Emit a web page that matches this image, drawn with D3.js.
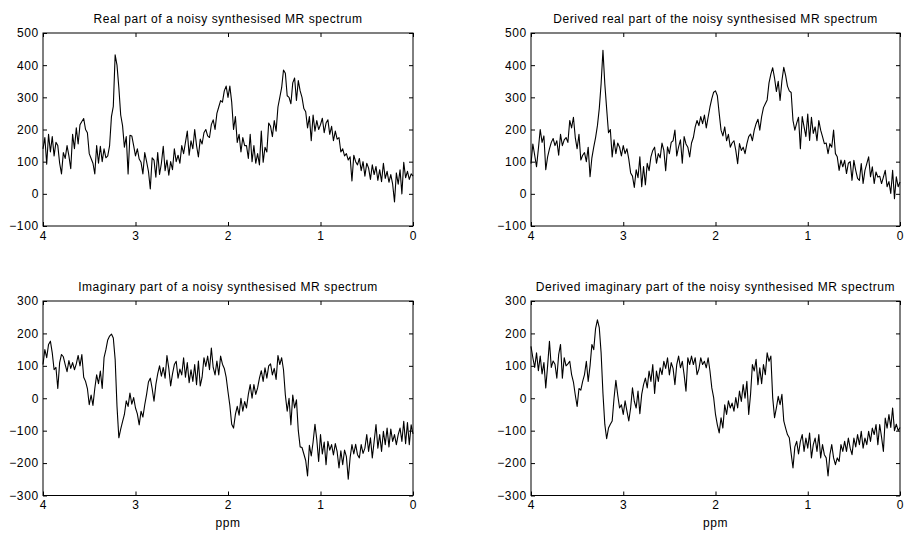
<!DOCTYPE html>
<html>
<head>
<meta charset="utf-8">
<script src="https://cdn.jsdelivr.net/npm/d3@7"></script>
<style>
  body { margin: 0; background: #fff; }
  text { font-family: Arial, "Liberation Sans", Helvetica, sans-serif; }
</style>
</head>
<body>
<svg id="chart" width="906" height="534"></svg>
<script>
// Chemical shift axis: samples run from 4 ppm down to 0 ppm in 0.02 ppm steps.
const ppmStart = 4;
const ppmStep = 0.02;

// Real part of the noisy synthesised spectrum
const realNoisy = [
  140, 175, 92, 185, 130, 178, 118, 160, 150, 95,
  62, 128, 110, 150, 118, 78, 185, 140, 205, 155,
  215, 225, 234, 200, 190, 125, 110, 95, 62, 150,
  95, 148, 100, 140, 112, 118, 150, 240, 272, 432,
  400, 330, 245, 212, 145, 178, 62, 182, 180, 150,
  118, 140, 108, 98, 62, 128, 100, 70, 15, 112,
  105, 52, 128, 60, 95, 148, 72, 105, 58, 100,
  75, 140, 100, 120, 95, 150, 125, 160, 195, 120,
  165, 140, 200, 150, 115, 170, 155, 190, 200, 180,
  175, 215, 230, 200, 250, 270, 290, 285, 320, 335,
  300, 335, 285, 200, 240, 160, 185, 130, 175, 150,
  150, 110, 185, 100, 150, 95, 125, 90, 195, 98,
  145, 130, 220, 210, 178, 228, 195, 270, 300, 330,
  385, 375, 305, 300, 280, 345, 360, 290, 352, 320,
  300, 265, 255, 205, 240, 165, 245, 195, 228, 200,
  215, 235, 190, 220, 230, 185, 210, 165, 195, 170,
  175, 130, 140, 118, 125, 105, 115, 40, 120, 100,
  90, 110, 72, 100, 55, 95, 80, 45, 90, 60,
  85, 42, 75, 38, 95, 48, 70, 36, 60, 30,
  -25, 65, 30, 75, 0, 98, 50, 70, 45, 62, 55
];

// Derived real part
const realDerived = [
  94, 155, 120, 84, 140, 200, 160, 180, 75, 115,
  140, 160, 172, 150, 165, 120, 185, 150, 168, 175,
  160, 228, 205, 238, 175, 140, 185, 105, 120, 128,
  100, 145, 53, 112, 145, 175, 212, 265, 342, 446,
  342, 265, 190, 200, 115, 168, 125, 158, 145, 118,
  150, 125, 140, 108, 65, 55, 20, 75, 50, 115,
  22, 85, 28, 95, 72, 115, 135, 145, 95, 125,
  112, 158, 135, 72, 146, 125, 160, 165, 198, 118,
  146, 168, 95, 178, 155, 145, 115, 158, 175, 208,
  228, 212, 240, 218, 245, 205, 238, 270, 296, 316,
  320, 305, 250, 198, 180, 208, 165, 185, 145, 158,
  165, 135, 94, 156, 135, 145, 125, 155, 178, 186,
  165, 198, 218, 232, 198, 240, 268, 280, 292, 345,
  372, 392, 360, 318, 350, 290, 352, 393, 368, 335,
  320, 315, 228, 198, 220, 238, 140, 240, 208, 178,
  248, 166, 238, 188, 208, 165, 228, 198, 178, 156,
  158, 125, 156, 145, 198, 125, 115, 73, 105, 84,
  104, 63, 95, 100, 42, 104, 73, 48, 42, 94,
  32, 73, 94, 115, 53, 84, 32, 68, 52, 55,
  32, 52, 73, 22, 38, 1, 73, -15, 53, 22, 37
];

// Imaginary part of the noisy synthesised spectrum
const imagNoisy = [
  104, 150, 125, 166, 176, 140, 88, 95, 30, 110,
  135, 128, 104, 82, 116, 92, 110, 88, 106, 132,
  100, 135, 65, 52, 30, -20, 10, -22, 30, 72,
  45, 84, 30, 125, 150, 180, 192, 198, 186, 120,
  -25, -122, -95, -72, -50, -8, -25, 16, -18, 2,
  -30, -48, -82, -40, -58, -20, 12, 50, 62, 30,
  -9, 42, 75, 100, 68, 95, 62, 132, 92, 38,
  75, 104, 114, 62, 90, 72, 125, 65, 110, 48,
  88, 52, 104, 42, 115, 38, 65, 125, 98, 130,
  88, 155, 95, 72, 115, 72, 130, 105, 92, 65,
  20, -22, -80, -92, -50, -25, -52, 0, -40, -10,
  -30, 12, 42, 0, 42, 12, 32, 62, 85, 52,
  94, 62, 100, 106, 72, 92, 58, 132, 104, 125,
  88, 10, -40, 0, -82, 10, -30, -5, -100, -150,
  -152, -172, -192, -240, -145, -178, -135, -80, -128, -195,
  -112, -172, -135, -205, -133, -160, -143, -175, -140, -165,
  -215, -162, -205, -160, -180, -250, -184, -143, -172, -142,
  -174, -184, -143, -170, -154, -112, -164, -122, -184, -133,
  -81, -154, -112, -164, -102, -143, -92, -150, -95, -133,
  -112, -143, -112, -92, -133, -71, -140, -75, -143, -82, -110
];

// Derived imaginary part
const imagDerived = [
  160, 125, 95, 140, 85, 130, 75, 110, 32, 100,
  176, 95, 115, 105, 62, 135, 166, 62, 125, 100,
  106, 114, 73, 50, 10, -25, 30, 25, 52, 73,
  114, 52, 100, 166, 150, 215, 242, 218, 140, 15,
  -80, -125, -92, -80, -70, 0, 55, 10, -30, -20,
  -50, -8, -40, -70, -30, 32, -10, -30, 22, -48,
  12, 42, 62, 32, 84, 52, 104, 15, 84, 52,
  94, 73, 114, 92, 125, 72, 110, 92, 42, 104,
  130, 94, 114, 72, 22, 125, 104, 130, 104, 125,
  73, 90, 125, 104, 114, 94, 125, 84, 32, 2,
  -50, -82, -107, -60, -92, -20, -50, -8, -30, -15,
  -40, 2, -30, 22, -10, 42, 0, 52, -50, 12,
  104, 84, 120, 42, 94, 45, 104, 73, 140, 114,
  130, 2, -60, -30, 6, -20, 12, -70, -92, -112,
  -122, -170, -215, -150, -133, -172, -133, -112, -164, -123,
  -154, -107, -184, -143, -123, -164, -112, -184, -143, -174,
  -184, -240, -174, -143, -184, -205, -184, -195, -143, -164,
  -133, -164, -123, -154, -174, -123, -150, -112, -143, -102,
  -154, -123, -143, -102, -133, -92, -112, -81, -143, -81,
  -120, -164, -61, -92, -50, -90, -30, -100, -80, -100, -90
];

// Tick labels
const xTicks = [4, 3, 2, 1, 0];
const realTicks = [-100, 0, 100, 200, 300, 400, 500];
const imagTicks = [-300, -200, -100, 0, 100, 200, 300];

// Titles
const titles = [
  "Real part of a noisy synthesised MR spectrum",
  "Derived real part of the noisy synthesised MR spectrum",
  "Imaginary part of a noisy synthesised MR spectrum",
  "Derived imaginary part of the noisy synthesised MR spectrum"
];
const xAxisLabel = "ppm";

// Panel layout (left, top, right, bottom in pixels)
const layout = [
  { x0: 43, y0: 33, x1: 413, y1: 226 },
  { x0: 531, y0: 33, x1: 900, y1: 226 },
  { x0: 43, y0: 301, x1: 413, y1: 495.5 },
  { x0: 531, y0: 301, x1: 900, y1: 495.5 }
];

const panels = [
  { values: realNoisy, yTicks: realTicks, title: titles[0], xlabel: false },
  { values: realDerived, yTicks: realTicks, title: titles[1], xlabel: false },
  { values: imagNoisy, yTicks: imagTicks, title: titles[2], xlabel: true },
  { values: imagDerived, yTicks: imagTicks, title: titles[3], xlabel: true }
];

const svg = d3.select("#chart");
const tickLen = 4;
const fontSize = 12;

function styleLabels(a) {
  a.selectAll("text")
    .attr("font-size", fontSize)
    .attr("letter-spacing", "0.7px")
    .attr("fill", "#000");
  a.selectAll("line").attr("stroke", "#000");
}

panels.forEach((p, k) => {
  const L = layout[k];
  const x = d3.scaleLinear().domain([4, 0]).range([L.x0, L.x1]);
  const y = d3.scaleLinear()
    .domain([p.yTicks[0], p.yTicks[p.yTicks.length - 1]])
    .range([L.y1, L.y0]);

  const g = svg.append("g");

  // Bottom axis with labels, ticks pointing inward
  g.append("g")
    .attr("transform", `translate(0,${L.y1})`)
    .call(d3.axisBottom(x).tickValues(xTicks).tickFormat(d3.format("d"))
      .tickSizeInner(-tickLen).tickSizeOuter(0).tickPadding(5))
    .call(a => a.select(".domain").remove())
    .call(styleLabels);

  // Top mirrored ticks
  g.append("g")
    .attr("transform", `translate(0,${L.y0})`)
    .call(d3.axisTop(x).tickValues(xTicks).tickFormat("")
      .tickSizeInner(-tickLen).tickSizeOuter(0))
    .call(a => a.select(".domain").remove())
    .call(a => a.selectAll("line").attr("stroke", "#000"));

  // Left axis with labels
  g.append("g")
    .attr("transform", `translate(${L.x0},0)`)
    .call(d3.axisLeft(y).tickValues(p.yTicks).tickFormat(d3.format("d"))
      .tickSizeInner(-tickLen).tickSizeOuter(0).tickPadding(4))
    .call(a => a.select(".domain").remove())
    .call(styleLabels);

  // Right mirrored ticks
  g.append("g")
    .attr("transform", `translate(${L.x1},0)`)
    .call(d3.axisRight(y).tickValues(p.yTicks).tickFormat("")
      .tickSizeInner(-tickLen).tickSizeOuter(0))
    .call(a => a.select(".domain").remove())
    .call(a => a.selectAll("line").attr("stroke", "#000"));

  // Spectrum trace
  const line = d3.line()
    .x((d, i) => x(ppmStart - i * ppmStep))
    .y(d => y(d));

  g.append("path")
    .datum(p.values)
    .attr("fill", "none")
    .attr("stroke", "#000")
    .attr("stroke-width", 1.1)
    .attr("stroke-linejoin", "round")
    .attr("d", line);

  // Axes box
  g.append("rect")
    .attr("x", L.x0).attr("y", L.y0)
    .attr("width", L.x1 - L.x0).attr("height", L.y1 - L.y0)
    .attr("fill", "none").attr("stroke", "#000").attr("stroke-width", 1);

  // Title
  g.append("text")
    .attr("x", (L.x0 + L.x1) / 2)
    .attr("y", L.y0 - 10)
    .attr("text-anchor", "middle")
    .attr("font-size", fontSize)
    .attr("letter-spacing", "0.55px")
    .attr("fill", "#000")
    .text(p.title);

  if (p.xlabel) {
    g.append("text")
      .attr("x", (L.x0 + L.x1) / 2)
      .attr("y", L.y1 + 31)
      .attr("text-anchor", "middle")
      .attr("font-size", fontSize)
      .attr("letter-spacing", "0.6px")
      .attr("fill", "#000")
      .text(xAxisLabel);
  }
});
</script>
</body>
</html>
